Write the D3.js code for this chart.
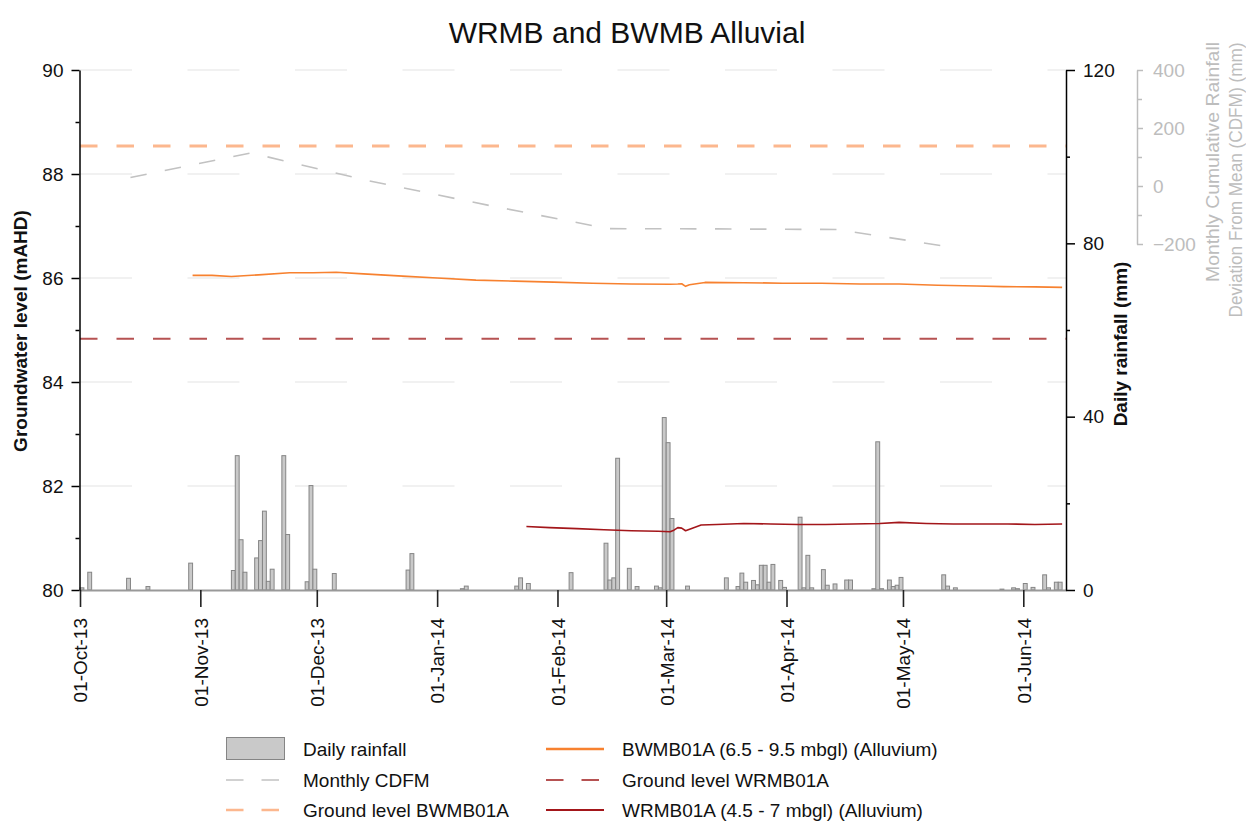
<!DOCTYPE html>
<html>
<head>
<meta charset="utf-8">
<script src="https://cdn.jsdelivr.net/npm/d3@7"></script>
<style>
  html, body { margin: 0; padding: 0; background: #fff; }
  svg { display: block; font-family: "Liberation Sans", Arial, Helvetica, sans-serif; }
</style>
</head>
<body>
<svg id="chart" width="1246" height="821"></svg>
<script>
// ---- Daily rainfall (mm) ----
const rainDates = [
  "2013-10-01","2013-10-03","2013-10-13","2013-10-18","2013-10-29",
  "2013-11-09","2013-11-10","2013-11-11","2013-11-12","2013-11-15","2013-11-16","2013-11-17",
  "2013-11-18","2013-11-19","2013-11-22","2013-11-23","2013-11-28","2013-11-29","2013-11-30",
  "2013-12-05","2013-12-24","2013-12-25",
  "2014-01-07","2014-01-08","2014-01-21","2014-01-22","2014-01-24",
  "2014-02-04","2014-02-13","2014-02-14","2014-02-15","2014-02-16","2014-02-19","2014-02-21",
  "2014-02-26","2014-02-27","2014-02-28",
  "2014-03-01","2014-03-02","2014-03-06","2014-03-16","2014-03-19","2014-03-20","2014-03-21",
  "2014-03-23","2014-03-24","2014-03-25","2014-03-26","2014-03-27","2014-03-28","2014-03-30","2014-03-31",
  "2014-04-04","2014-04-05","2014-04-06","2014-04-07","2014-04-10","2014-04-11","2014-04-13",
  "2014-04-16","2014-04-17","2014-04-23","2014-04-24","2014-04-25","2014-04-27","2014-04-28",
  "2014-04-29","2014-04-30",
  "2014-05-11","2014-05-12","2014-05-14","2014-05-26","2014-05-29","2014-05-30",
  "2014-06-01","2014-06-03","2014-06-06","2014-06-07","2014-06-09","2014-06-10"
];
const rainMm = [
  0.5, 4.1, 2.7, 0.8, 6.2,
  4.5, 31.0, 11.6, 4.1, 7.4, 11.4, 18.2,
  2.0, 4.8, 31.0, 12.8, 1.9, 24.1, 4.8,
  3.8, 4.6, 8.4,
  0.3, 0.9, 0.9, 2.8, 1.5,
  4.0, 10.8, 2.3, 2.8, 30.4, 5.0, 0.8,
  0.9, 0.5, 39.8,
  34.0, 16.5, 0.9, 2.8, 0.8, 3.9, 1.8,
  2.2, 1.2, 5.7, 5.7, 1.8, 5.9, 2.2, 0.6,
  16.8, 0.5, 8.0, 0.5, 4.7, 1.1, 1.4,
  2.3, 2.3, 0.3, 34.2, 0.3, 2.3, 0.8,
  1.1, 2.9,
  3.5, 0.9, 0.5, 0.2, 0.5, 0.3,
  1.5, 0.6, 3.5, 0.5, 1.8, 1.8
];

// ---- BWMB01A (6.5 - 9.5 mbgl) groundwater level (mAHD) ----
const bwmbDates = [
  "2013-10-30","2013-11-04","2013-11-09","2013-11-16","2013-11-24","2013-11-30",
  "2013-12-06","2013-12-13","2013-12-22","2014-01-01","2014-01-11","2014-01-21",
  "2014-01-31","2014-02-10","2014-02-20","2014-03-02","2014-03-04","2014-03-05",
  "2014-03-06","2014-03-07","2014-03-11","2014-03-21","2014-03-31","2014-04-10",
  "2014-04-20","2014-04-30","2014-05-10","2014-05-20","2014-05-27","2014-06-04","2014-06-11"
];
const bwmbLevel = [
  86.05, 86.05, 86.03, 86.06, 86.10, 86.10,
  86.11, 86.08, 86.04, 86.00, 85.96, 85.94,
  85.92, 85.90, 85.885, 85.88, 85.885, 85.89,
  85.84, 85.87, 85.915, 85.91, 85.90, 85.90,
  85.885, 85.885, 85.86, 85.845, 85.835, 85.83, 85.82
];

// ---- WRMB01A (4.5 - 7 mbgl) groundwater level (mAHD) ----
const wrmbDates = [
  "2014-01-24","2014-01-30","2014-02-06","2014-02-13","2014-02-20","2014-02-27",
  "2014-03-02","2014-03-03","2014-03-04","2014-03-05","2014-03-06","2014-03-10",
  "2014-03-14","2014-03-21","2014-03-28","2014-04-04","2014-04-11","2014-04-18",
  "2014-04-25","2014-04-30","2014-05-07","2014-05-14","2014-05-21","2014-05-28",
  "2014-06-04","2014-06-11"
];
const wrmbLevel = [
  81.22, 81.20, 81.18, 81.16, 81.14, 81.13,
  81.12, 81.15, 81.20, 81.19, 81.14, 81.25,
  81.26, 81.28, 81.27, 81.26, 81.26, 81.27,
  81.28, 81.30, 81.28, 81.27, 81.27, 81.27,
  81.26, 81.27
];

// ---- Monthly cumulative rainfall deviation from mean (mm) ----
const cdfmDates = ["2013-10-14","2013-11-14","2013-12-14","2014-01-14","2014-02-14","2014-03-14","2014-04-14","2014-05-14"];
const cdfmMm = [29, 114, 19, -66, -147, -148, -150, -212];

// ---- Ground levels (mAHD) ----
const groundBWMB = 88.54;
const groundWRMB = 84.83;

// ---- Axis ticks ----
const monthTicks = ["2013-10-01","2013-11-01","2013-12-01","2014-01-01","2014-02-01","2014-03-01","2014-04-01","2014-05-01","2014-06-01"];
const levelTicks = [80, 82, 84, 86, 88, 90];
const levelMinorTicks = [81, 83, 85, 87, 89];
const rainTicks = [0, 40, 80, 120];
const rainMinorTicks = [20, 60, 100];
const cdfmTicks = [-200, 0, 200, 400];
const cdfmMinorTicks = [-100, 100, 300];

// ---- Text ----
const chartTitle = "WRMB and BWMB Alluvial";
const leftTitle = "Groundwater level (mAHD)";
const rightTitle = "Daily rainfall (mm)";
const cdfmTitleLines = ["Monthly Cumulative Rainfall", "Deviation From Mean (CDFM) (mm)"];
const legendLabels = [
  "Daily rainfall", "Monthly CDFM", "Ground level BWMB01A",
  "BWMB01A (6.5 - 9.5 mbgl) (Alluvium)", "Ground level WRMB01A", "WRMB01A (4.5 - 7 mbgl) (Alluvium)"
];

// ---- Drawing ----
const parse = d3.timeParse("%Y-%m-%d");
const svg = d3.select("#chart");

const plot = { left: 80, right: 1066, top: 70, bottom: 590 };
const x = d3.scaleTime()
  .domain([parse("2013-10-01"), parse("2014-06-12")])
  .range([plot.left, plot.right]);
const yLevel = d3.scaleLinear().domain([80, 90]).range([plot.bottom, plot.top]);
const yRain = d3.scaleLinear().domain([0, 120]).range([plot.bottom, plot.top]);
const yCdfm = d3.scaleLinear().domain([-200, 400]).range([244, 70]);

const colors = {
  bwmb: "#f7812f",
  bwmbGround: "#fcb78e",
  wrmb: "#a3161a",
  wrmbGround: "#b65252",
  cdfm: "#c2c2c2",
  barFill: "#c9c9c9",
  barStroke: "#858585",
  grid: "#e4e4e4"
};

// Horizontal grid lines at major groundwater ticks
svg.append("g").selectAll("line")
  .data(levelTicks.filter(d => d > 80))
  .join("line")
  .attr("x1", plot.left).attr("x2", plot.right)
  .attr("y1", d => yLevel(d)).attr("y2", d => yLevel(d))
  .attr("stroke", colors.grid).attr("stroke-width", 1.2)
  .attr("stroke-dasharray", "52,55.5");

// Rainfall bars, one day wide
const rain = rainDates.map((d, i) => ({ date: parse(d), mm: rainMm[i] }));
svg.append("g").selectAll("rect")
  .data(rain)
  .join("rect")
  .attr("x", d => x(d.date))
  .attr("width", d => x(d3.timeDay.offset(d.date, 1)) - x(d.date))
  .attr("y", d => yRain(d.mm))
  .attr("height", d => yRain(0) - yRain(d.mm))
  .attr("fill", colors.barFill)
  .attr("stroke", colors.barStroke)
  .attr("stroke-width", 1);

// Ground level reference lines
function groundLine(value, color, width) {
  svg.append("line")
    .attr("x1", plot.left).attr("x2", plot.right)
    .attr("y1", yLevel(value)).attr("y2", yLevel(value))
    .attr("stroke", color).attr("stroke-width", width)
    .attr("stroke-dasharray", "17.5,19");
}
groundLine(groundWRMB, colors.wrmbGround, 2);
groundLine(groundBWMB, colors.bwmbGround, 3);

// CDFM line on the secondary right axis
const cdfm = cdfmDates.map((d, i) => ({ date: parse(d), v: cdfmMm[i] }));
svg.append("path")
  .datum(cdfm)
  .attr("fill", "none")
  .attr("stroke", colors.cdfm)
  .attr("stroke-width", 1.6)
  .attr("stroke-dasharray", "16.5,18.5")
  .attr("d", d3.line().x(d => x(d.date)).y(d => yCdfm(d.v)));

// Groundwater hydrographs
function hydrograph(dates, levels, color) {
  const data = dates.map((d, i) => ({ date: parse(d), v: levels[i] }));
  svg.append("path")
    .datum(data)
    .attr("fill", "none")
    .attr("stroke", color)
    .attr("stroke-width", 1.6)
    .attr("stroke-linejoin", "round")
    .attr("d", d3.line().x(d => x(d.date)).y(d => yLevel(d.v)));
}
hydrograph(bwmbDates, bwmbLevel, colors.bwmb);
hydrograph(wrmbDates, wrmbLevel, colors.wrmb);

// ---- Axes ----
const fontSize = 19;

function styleAxis(g, color, width) {
  g.select(".domain").attr("stroke", color).attr("stroke-width", width);
  g.selectAll(".tick line").attr("stroke", color).attr("stroke-width", width);
  g.selectAll(".tick text").attr("fill", color === "#000" ? "#111" : color)
    .style("font-size", fontSize + "px").style("font-family", "'Liberation Sans', Arial, sans-serif");
}

// Bottom date axis
const xAxis = svg.append("g")
  .attr("transform", `translate(0,${plot.bottom})`)
  .call(d3.axisBottom(x)
    .tickValues(monthTicks.map(parse))
    .tickSize(17).tickSizeOuter(0)
    .tickFormat(d3.timeFormat("%d-%b-%y")));
xAxis.select(".domain").attr("stroke", "#999").attr("stroke-width", 2);
xAxis.selectAll(".tick line").attr("stroke", "#222").attr("stroke-width", 1.6);
xAxis.selectAll(".tick text")
  .attr("fill", "#111")
  .style("font-size", fontSize + "px")
  .attr("text-anchor", "end")
  .attr("transform", "rotate(-90)")
  .attr("x", -28).attr("y", 0).attr("dy", "0.36em");

// Left groundwater axis
const yAxisL = svg.append("g")
  .attr("transform", `translate(${plot.left - 0.5},0)`)
  .call(d3.axisLeft(yLevel).tickValues(levelTicks).tickSize(8).tickSizeOuter(0).tickPadding(8).tickFormat(d3.format("d")));
styleAxis(yAxisL, "#000", 1.5);
svg.append("g")
  .attr("transform", `translate(${plot.left - 0.5},0)`)
  .call(d3.axisLeft(yLevel).tickValues(levelMinorTicks).tickSize(4).tickFormat(""))
  .call(g => g.select(".domain").remove())
  .call(g => g.selectAll(".tick line").attr("stroke", "#000").attr("stroke-width", 1.5));

// Right rainfall axis
const yAxisR = svg.append("g")
  .attr("transform", `translate(${plot.right},0)`)
  .call(d3.axisRight(yRain).tickValues(rainTicks).tickSize(9).tickSizeOuter(0).tickPadding(8).tickFormat(d3.format("d")));
styleAxis(yAxisR, "#000", 1.5);
svg.append("g")
  .attr("transform", `translate(${plot.right},0)`)
  .call(d3.axisRight(yRain).tickValues(rainMinorTicks).tickSize(4).tickFormat(""))
  .call(g => g.select(".domain").remove())
  .call(g => g.selectAll(".tick line").attr("stroke", "#000").attr("stroke-width", 1.5));

// Secondary CDFM axis
const yAxisC = svg.append("g")
  .attr("transform", "translate(1137,0)")
  .call(d3.axisRight(yCdfm).tickValues(cdfmTicks).tickSize(6).tickSizeOuter(0).tickPadding(10).tickFormat(d3.format("d")));
styleAxis(yAxisC, "#bdbdbd", 1.5);
svg.append("g")
  .attr("transform", "translate(1137,0)")
  .call(d3.axisRight(yCdfm).tickValues(cdfmMinorTicks).tickSize(5).tickFormat(""))
  .call(g => g.select(".domain").remove())
  .call(g => g.selectAll(".tick line").attr("stroke", "#bdbdbd").attr("stroke-width", 1.5));

// ---- Titles ----
svg.append("text")
  .attr("x", 627).attr("y", 43)
  .attr("text-anchor", "middle")
  .style("font-size", "30px").attr("fill", "#111")
  .text(chartTitle);

svg.append("text")
  .attr("transform", "translate(27,331) rotate(-90)")
  .attr("text-anchor", "middle")
  .style("font-size", fontSize + "px").style("font-weight", "bold").attr("fill", "#111")
  .text(leftTitle);

svg.append("text")
  .attr("transform", "translate(1127,344) rotate(-90)")
  .attr("text-anchor", "middle")
  .style("font-size", fontSize + "px").style("font-weight", "bold").attr("fill", "#111")
  .text(rightTitle);

// CDFM axis title: two rotated lines, the second fitted to its measured run
const cdfmTitleLayout = [
  { x: 1219, cy: 162, len: 240 },
  { x: 1242, cy: 180, len: 275 }
];
cdfmTitleLines.forEach((line, i) => {
  const l = cdfmTitleLayout[i];
  svg.append("text")
    .attr("transform", `translate(${l.x},${l.cy}) rotate(-90)`)
    .attr("text-anchor", "middle")
    .attr("textLength", l.len)
    .attr("lengthAdjust", "spacingAndGlyphs")
    .style("font-size", fontSize + "px").attr("fill", "#bdbdbd")
    .text(line);
});

// ---- Legend ----
const legend = svg.append("g").style("font-size", fontSize + "px");
const rowY = [749, 780, 810];
const cols = [{ sym: 226, text: 303 }, { sym: 546, text: 622 }];
const legendItems = [
  { kind: "bar" },
  { kind: "line", color: colors.cdfm, width: 1.6, dash: "17.5,18" },
  { kind: "line", color: colors.bwmbGround, width: 2.5, dash: "17.5,18" },
  { kind: "line", color: colors.bwmb, width: 2.5, dash: null },
  { kind: "line", color: colors.wrmbGround, width: 2, dash: "17.5,18" },
  { kind: "line", color: colors.wrmb, width: 2, dash: null }
];
legendItems.forEach((item, i) => {
  const col = cols[Math.floor(i / 3)];
  const yy = rowY[i % 3];
  if (item.kind === "bar") {
    legend.append("rect")
      .attr("x", col.sym + 0.5).attr("y", yy - 11.5)
      .attr("width", 58).attr("height", 22)
      .attr("fill", colors.barFill).attr("stroke", colors.barStroke).attr("stroke-width", 1);
  } else {
    legend.append("line")
      .attr("x1", col.sym).attr("x2", col.sym + 58)
      .attr("y1", yy).attr("y2", yy)
      .attr("stroke", item.color).attr("stroke-width", item.width)
      .attr("stroke-dasharray", item.dash);
  }
  legend.append("text")
    .attr("x", col.text).attr("y", yy)
    .attr("dy", "0.35em").attr("fill", "#111")
    .text(legendLabels[i]);
});
</script>
</body>
</html>
